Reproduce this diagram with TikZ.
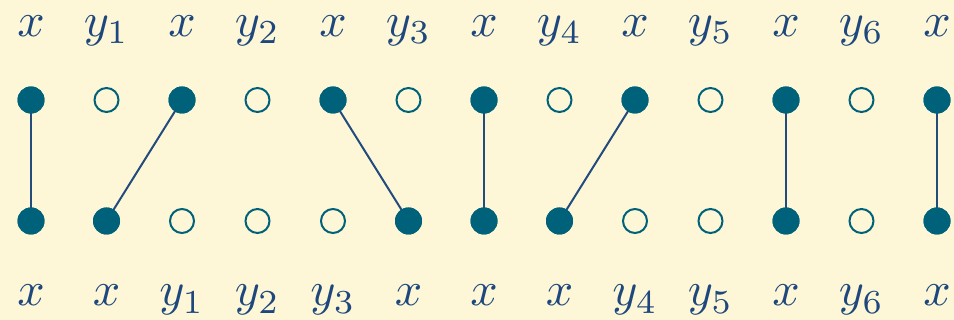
\documentclass[tikz,border=0pt]{standalone}
\usepackage{tikz}
\definecolor{bg}{RGB}{253,247,215}
\definecolor{nodecol}{RGB}{0,98,122}
\definecolor{txtcol}{RGB}{30,72,125}
\definecolor{edgecol}{RGB}{35,75,125}
\begin{document}
\begin{tikzpicture}[x=1pt,y=1pt,
  full/.style={circle,fill=nodecol,minimum size=27pt,inner sep=0pt},
  hollow/.style={circle,draw=nodecol,line width=2pt,minimum size=24pt,inner sep=0pt},
  lbl/.style={anchor=base,text=txtcol,scale=4.8,inner sep=0pt},
  edge/.style={draw=edgecol,line width=2pt}]
\fill[bg] (0,0) rectangle (954,320);
\useasboundingbox (0,0) rectangle (954,320);
% top row
\foreach \i/\s/\t in {0/full/x,1/hollow/y_1,2/full/x,3/hollow/y_2,4/full/x,5/hollow/y_3,6/full/x,7/hollow/y_4,8/full/x,9/hollow/y_5,10/full/x,11/hollow/y_6,12/full/x}{
  \node[\s] (t\i) at (31+75.5*\i,220) {};
  \node[lbl] (lt\i) at (31+75.5*\i,283.5) {$\t$};
}
% bottom row
\foreach \i/\s/\t in {0/full/x,1/full/x,2/hollow/y_1,3/hollow/y_2,4/hollow/y_3,5/full/x,6/full/x,7/full/x,8/hollow/y_4,9/hollow/y_5,10/full/x,11/hollow/y_6,12/full/x}{
  \node[\s] (b\i) at (31+75.5*\i,99) {};
  \node[lbl] (lb\i) at (31+75.5*\i,14) {$\t$};
}
\foreach \a/\b in {0/0,2/1,4/5,6/6,8/7,10/10,12/12}{
  \draw[edge] (t\a.center) -- (b\b.center);
}
\foreach \i in {0,2,4,6,8,10,12}{\node[full] at (t\i) {};}
\foreach \i in {0,1,5,6,7,10,12}{\node[full] at (b\i) {};}
\end{tikzpicture}
\end{document}
